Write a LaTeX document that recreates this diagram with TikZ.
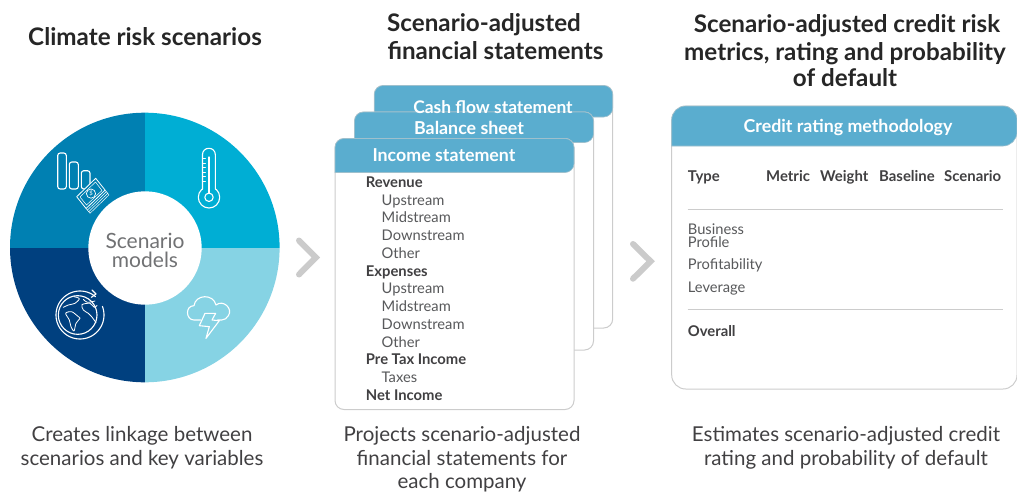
\documentclass[tikz,border=0pt]{standalone}
\usepackage{fontspec}
\setmainfont{Lato}
\definecolor{hdr}{HTML}{5AADCF}
\definecolor{edge}{HTML}{CCCCCC}
\definecolor{ink}{HTML}{58595B}
\definecolor{inkb}{HTML}{414042}
\definecolor{sTR}{HTML}{00AED4}
\definecolor{sBR}{HTML}{86D3E4}
\definecolor{sBL}{HTML}{00407F}
\definecolor{sTL}{HTML}{0080B2}
\definecolor{chev}{HTML}{CBCBCB}
\newcommand{\fs}[1]{\fontsize{#1pt}{#1pt}\selectfont}
\tikzset{
  x=1pt,y=-1pt,
  txt/.style={inner sep=0pt,anchor=base},
  title/.style={txt,font=\fs{24.2}\bfseries,text=black!85},
  capt/.style={txt,font=\fs{20.5},text=inkb},
  headtxt/.style={txt,font=\fs{17.8}\bfseries,text=white},
  rowb/.style={txt,anchor=base west,font=\fs{14.8}\bfseries,text=inkb},
  rown/.style={txt,anchor=base west,font=\fs{14.7},text=ink},
  colh/.style={txt,anchor=base west,font=\fs{14.9}\bfseries,text=inkb},
  cardedge/.style={draw=edge,line width=1pt,fill=white,rounded corners=9pt},
  head/.style={fill=hdr,draw=edge!60!hdr,line width=.6pt},
  chevron/.style={draw=chev,line width=6pt,line cap=round,line join=miter},
  icon/.style={draw=white,line width=1.1pt,line join=round,line cap=round},
  rule/.style={draw=edge,line width=1pt}
}
\begin{document}
\begin{tikzpicture}
\useasboundingbox (0,0) rectangle (1017,491);
% wheel
\begin{scope}
\clip (144.8,247.5) circle[radius=134.8pt];
\fill[sTL] (0,100) rectangle (144.8,247.5);
\fill[sTR] (144.8,100) rectangle (290,247.5);
\fill[sBL] (0,247.5) rectangle (144.8,390);
\fill[sBR] (144.8,247.5) rectangle (290,390);
\end{scope}
\node[circle,fill=white,inner sep=0pt,minimum size=113.4pt] (hub) at (145,248) {};
\node[inner sep=0pt,align=center,font=\fontsize{21}{19}\selectfont,text=ink!85] (hubtext) at (145,250.3) {Scenario\\models};
% bars icon
\draw[icon,rounded corners=2.5pt] (57.7,189) -- (57.7,153) -- (66.3,153) -- (66.3,189) -- cycle;
\draw[icon,rounded corners=2.5pt] (69.3,189) -- (69.3,162) -- (78.3,162) -- (78.3,189) -- cycle;
\draw[icon,rounded corners=2.5pt] (81.3,189) -- (81.3,170.7) -- (90,170.7) -- (90,189) -- cycle;
\fill[sTL] (76.7,196.7) -- (95.7,178.3) -- (109,195) -- (90,213) -- cycle;
\draw[icon,line width=.8pt] (76.7,196.7) -- (95.7,178.3) -- (105.1,190.1) -- (86.1,208.5) -- cycle;
\draw[icon,line width=.5pt] (106.4,191.7) -- (87.4,210.1) (107.7,193.3) -- (88.7,211.7) (109,194.9) -- (90,213.3)
  (105.1,190.1) -- (109,194.9) (86.1,208.5) -- (90,213.3);
\draw[icon,line width=.5pt] (80,197) -- (95.5,182) -- (102,190.5) -- (86.5,205) -- cycle;
\draw[icon,line width=.7pt] (91,193.6) circle[radius=4.6pt];
\node[txt,anchor=center,font=\fs{6},text=white] (dollar) at (91,193.6) {\$};
% thermometer
\draw[icon] (209,197.3) circle[radius=10.7pt];
\fill[sTR] (203,180) rectangle (214.7,191);
\draw[icon,rounded corners=6.2pt] (202.5,189) -- (202.5,148.3) -- (215.3,148.3) -- (215.3,189);
\draw[icon] (209,197.3) circle[radius=4.2pt];
\draw[icon] (209,157) -- (209,193);
\foreach \yy in {158.5,163,167.5,172,176.5,181}{\draw[icon,line width=.7pt] (203,\yy) -- (205.5,\yy);}
% globe
\begin{scope}[shift={(0,100)},scale=1/3]
\draw[icon] (233,645) circle[radius=58pt];
\draw[icon] plot[domain=-50:-381,samples=70]({240+72*cos(\x)},{645+72*sin(\x)});
\draw[icon] (276,570) -- (288,582) -- (274,592);
\draw[icon,line width=.8pt,smooth cycle,tension=.5] plot coordinates {(197,640) (215,635) (235,650) (240,655) (228,670) (222,693) (213,680) (208,660)};
\draw[icon,line width=.8pt,smooth,tension=.5] plot coordinates {(190,622) (205,615) (225,610) (238,596) (222,590)};
\draw[icon,line width=.8pt,smooth,tension=.5] plot coordinates {(288,668) (275,650) (265,640) (250,630) (246,614) (270,610) (283,622) (291,616)};
\draw[icon,line width=.8pt,smooth,tension=.5] plot coordinates {(250,598) (262,607) (285,603)};
\end{scope}
% cloud
\begin{scope}[shift={(180,285)},scale=1/3]
\draw[icon] (62,105) -- (42,105) .. controls (17,105) and (15,62) .. (42,62)
  .. controls (46,28) and (100,25) .. (108,60)
  .. controls (130,42) and (160,72) .. (145,92)
  .. controls (142,100) and (132,105) .. (125,105) -- (113,105);
\draw[icon] (75,85) -- (107,85) -- (96,105) -- (118,107) -- (78,160) -- (88,125) -- (58,122) -- cycle;
\end{scope}
% chevrons
\coordinate (c1a) at (299,240.5); \coordinate (c1b) at (315.8,257.5); \coordinate (c1c) at (299,274.5);
\draw[chevron] (c1a) -- (c1b) -- (c1c);
\coordinate (c2a) at (633,244); \coordinate (c2b) at (650.6,261.3); \coordinate (c2c) at (633,278.7);
\draw[chevron] (c2a) -- (c2b) -- (c2c);
% card 3
\draw[cardedge] (374.3,85.5) rectangle (612.7,328);
\filldraw[head,rounded corners=9pt] (374.3,117) -- (374.3,85.5) -- (612.7,85.5) -- (612.7,117) [sharp corners] -- cycle;
% card 2
\draw[cardedge] (354.5,112) rectangle (593.5,350);
\filldraw[head,rounded corners=9pt] (354.5,142.5) -- (354.5,112) -- (593.5,112) -- (593.5,142.5) [sharp corners] -- cycle;
% card 1
\draw[cardedge] (335,138.5) rectangle (574,409.5);
\filldraw[head,rounded corners=9pt] (335,172.5) -- (335,138.5) -- (574,138.5) -- (574,172.5) [sharp corners] -- cycle;
\node[headtxt,font=\fs{17.4}\bfseries] (c3t) at (493,113.3) {Cash flow statement};
\node[headtxt] (c2t) at (469,134) {Balance sheet};
\node[headtxt] (c1t) at (444,161) {Income statement};
\node[rowb] (r1) at (365.7,187.4) {Revenue};
\node[rown] (r2) at (381.5,205) {Upstream};
\node[rown] (r3) at (381.5,222.7) {Midstream};
\node[rown] (r4) at (381.5,240.4) {Downstream};
\node[rown] (r5) at (381.5,258.4) {Other};
\node[rowb] (r6) at (365.7,276.2) {Expenses};
\node[rown] (r7) at (381.5,293.8) {Upstream};
\node[rown] (r8) at (381.5,311.5) {Midstream};
\node[rown] (r9) at (381.5,329.2) {Downstream};
\node[rown] (r10) at (381.5,347.2) {Other};
\node[rowb] (r11) at (365.7,364.5) {Pre Tax Income};
\node[rown] (r12) at (381.5,382.3) {Taxes};
\node[rowb] (r13) at (365.7,400) {Net Income};
% right panel
\draw[cardedge,rounded corners=14pt] (671.7,106) rectangle (1017,389);
\filldraw[head,rounded corners=14pt] (671.7,146) -- (671.7,106) -- (1017,106) -- (1017,146) [sharp corners] -- cycle;
\node[headtxt] (pt) at (848,132.7) {Credit rating methodology};
\node[colh] (h1) at (687.7,181) {Type};
\node[colh] (h2) at (766,181) {Metric};
\node[colh] (h3) at (820,181) {Weight};
\node[colh] (h4) at (879,181) {Baseline};
\node[colh] (h5) at (944,181) {Scenario};
\coordinate (l1a) at (687.5,209.5); \coordinate (l1b) at (1002.5,209.5);
\draw[rule] (l1a) -- (l1b);
\node[rown] (t1) at (687.7,234) {Business};
\node[rown] (t2) at (687.7,247) {Profile};
\node[rown] (t3) at (687.7,269) {Profitability};
\node[rown] (t4) at (687.7,292) {Leverage};
\coordinate (l2a) at (687.5,309.5); \coordinate (l2b) at (1002.5,309.5);
\draw[rule] (l2a) -- (l2b);
\node[rowb] (t5) at (687.7,336) {Overall};
% titles
\node[title] (ta) at (145,45) {Climate risk scenarios};
\node[title] (tb1) at (484,31) {Scenario-adjusted};
\node[title] (tb2) at (495.5,59) {financial statements};
\node[title] (tc1) at (847,32) {Scenario-adjusted credit risk};
\node[title] (tc2) at (845,60) {metrics, rating and probability};
\node[title] (tc3) at (845,86) {of default};
% captions
\node[capt] (ca1) at (142,441) {Creates linkage between};
\node[capt] (ca2) at (142,465) {scenarios and key variables};
\node[capt] (cb1) at (462,441) {Projects scenario-adjusted};
\node[capt] (cb2) at (462,465) {financial statements for};
\node[capt] (cb3) at (462,488.5) {each company};
\node[capt] (cc1) at (846,441) {Estimates scenario-adjusted credit};
\node[capt] (cc2) at (846,465) {rating and probability of default};
\end{tikzpicture}
\end{document}
